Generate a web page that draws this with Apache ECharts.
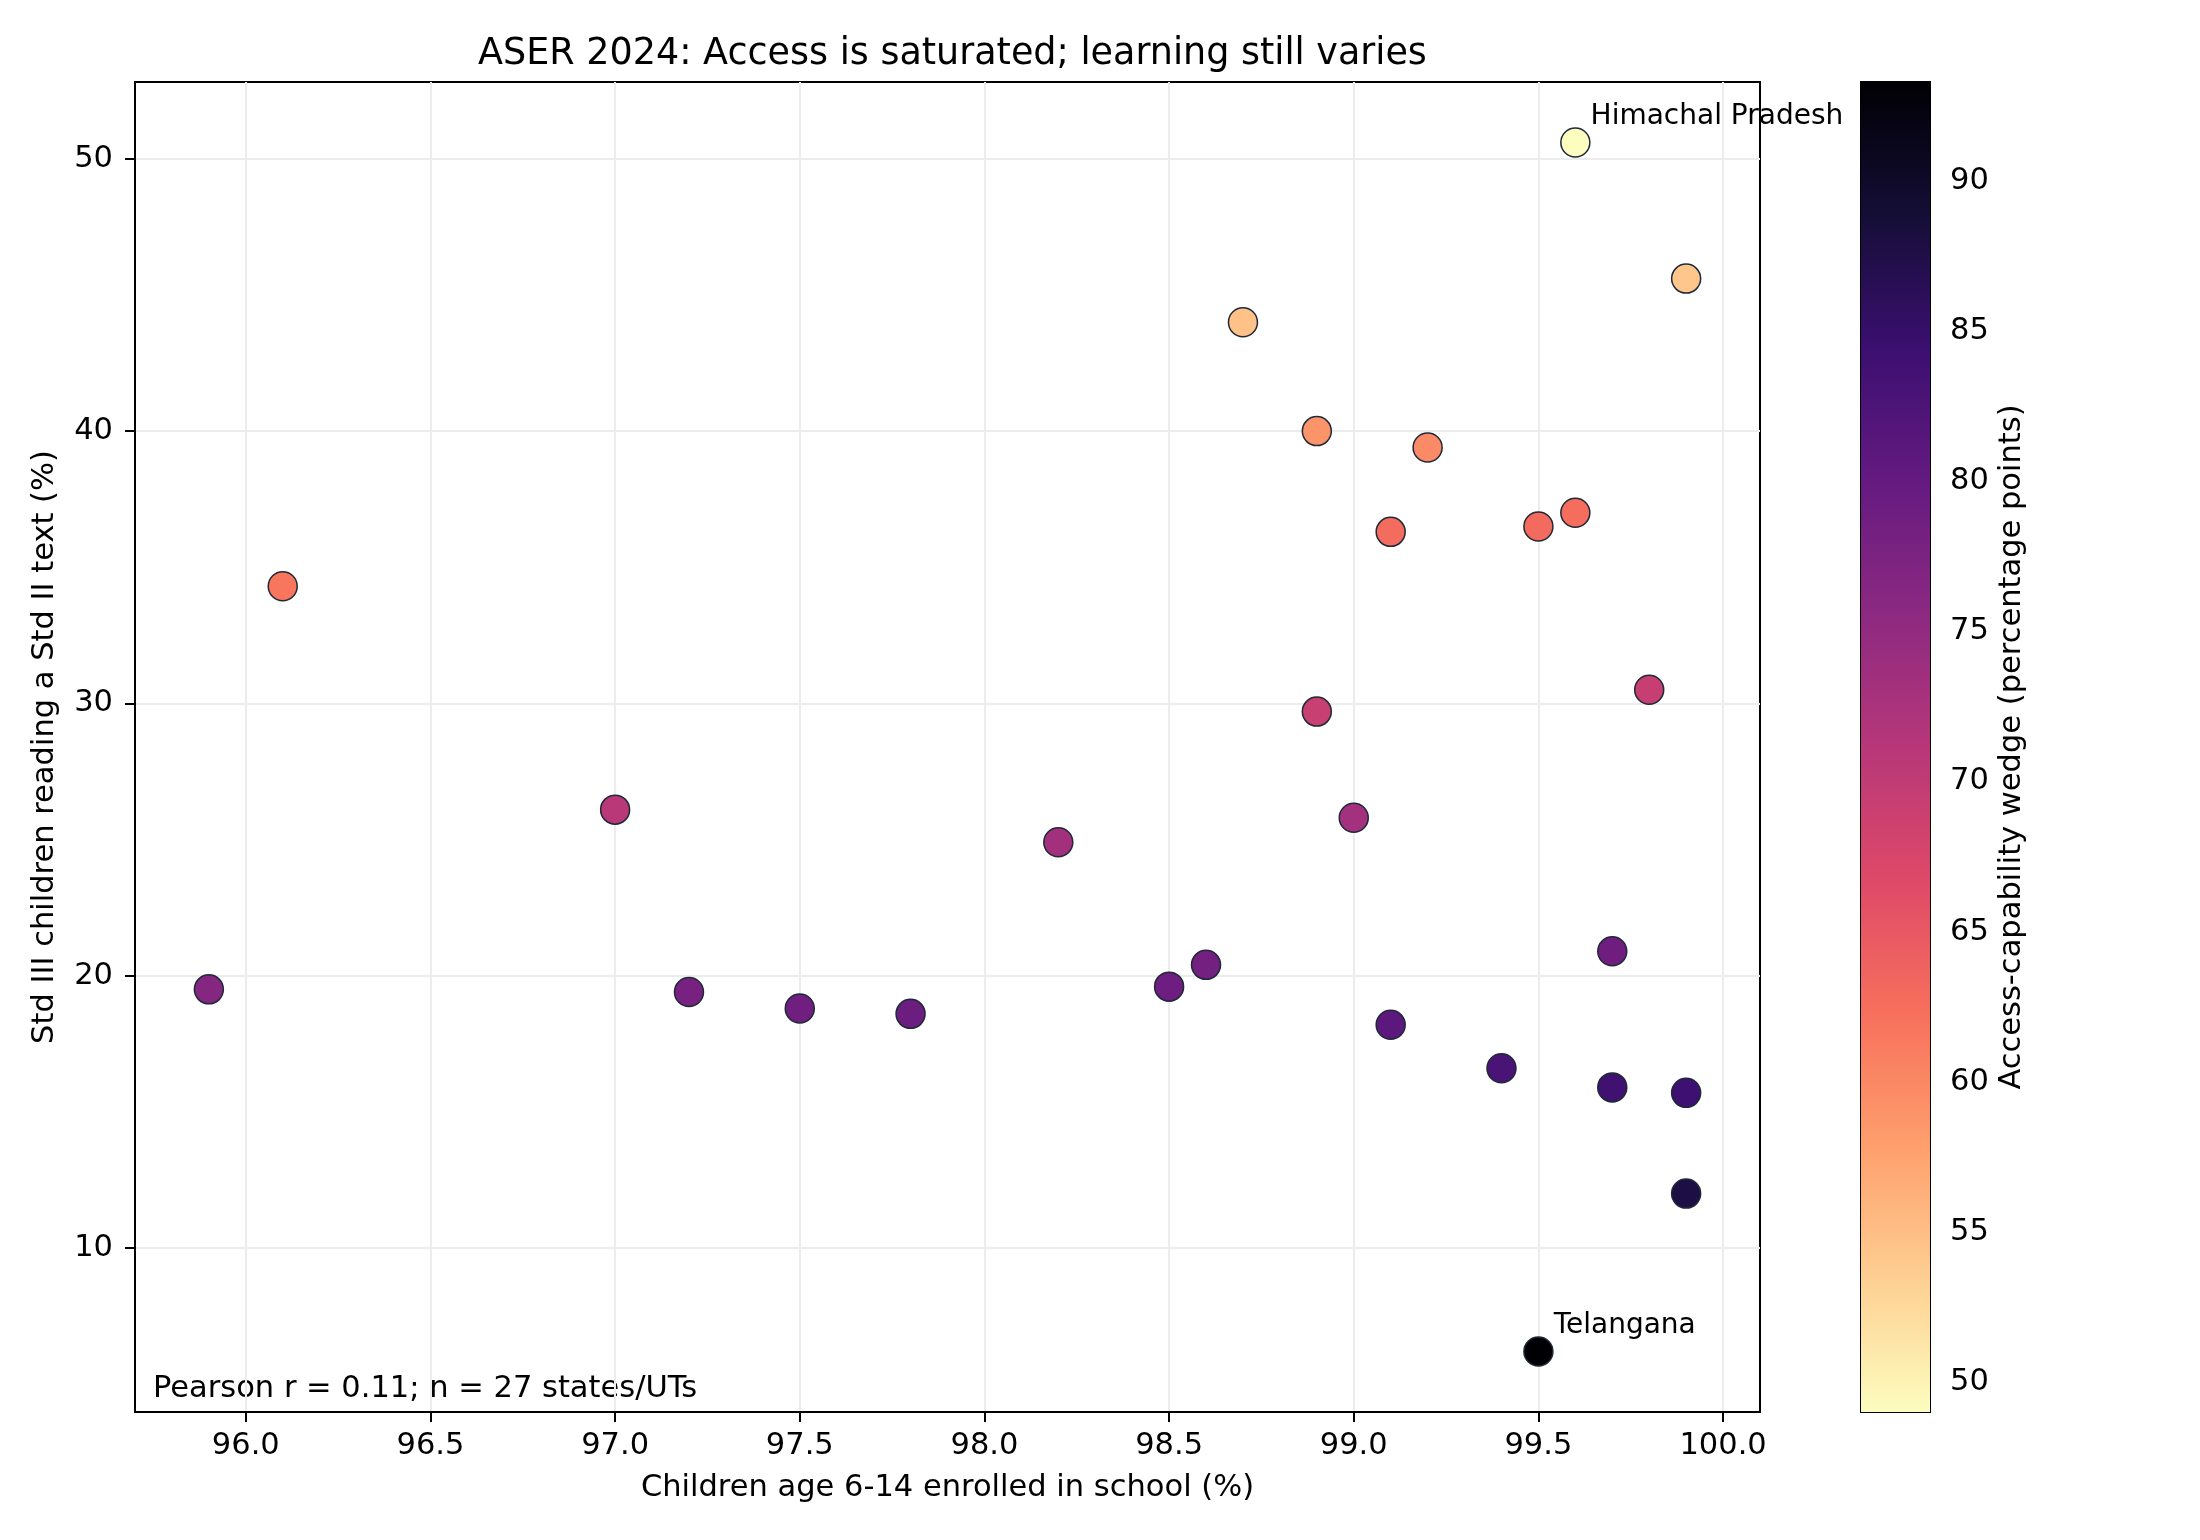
<!DOCTYPE html>
<html>
<head>
<meta charset="utf-8">
<title>ASER 2024: Access is saturated; learning still varies</title>
<script src="https://cdn.jsdelivr.net/npm/echarts@6/dist/echarts.min.js"></script>
<style>
  html, body { margin: 0; padding: 0; background: #fff; }
  #chart { width: 2200px; height: 1540px; }
</style>
</head>
<body>
<div id="chart"></div>
<script>
// enrolment (x) and Std III reading (y) per state/UT
const enrolled = [99.6, 99.9, 98.7, 98.9, 99.2, 99.1, 99.5, 99.6, 96.1, 99.8, 98.9, 97.0, 99.0, 98.2,
  95.9, 97.2, 97.5, 97.8, 98.5, 98.6, 99.7, 99.1, 99.4, 99.7, 99.9, 99.9, 99.5]
const reading = [50.6, 45.6, 44.0, 40.0, 39.4, 36.3, 36.5, 37.0, 34.3, 30.5, 29.7, 26.1, 25.8, 24.9,
  19.5, 19.4, 18.8, 18.6, 19.6, 20.4, 20.9, 18.2, 16.6, 15.9, 15.7, 12.0, 6.2]
// only two points carry a name label
const stateNames = ['Himachal Pradesh', '', '', '', '', '', '', '', '', '', '', '', '', '',
  '', '', '', '', '', '', '', '', '', '', '', '', 'Telangana']

const xTicks = [96.0, 96.5, 97.0, 97.5, 98.0, 98.5, 99.0, 99.5, 100.0]
const yTicks = [10, 20, 30, 40, 50]
const cbarTicks = [50, 55, 60, 65, 70, 75, 80, 85, 90]

// wedge = enrolled minus reading (percentage points)
const wedge = enrolled.map((e, i) => +(e - reading[i]).toFixed(1))
const vmin = Math.min(...wedge)
const vmax = Math.max(...wedge)

// magma, reversed (low = light)
const magmaR = ['#fcfdbf', '#fecf92', '#fe9f6d', '#f7705c', '#de4968', '#b73779',
  '#8c2981', '#641a80', '#3b0f70', '#140e36', '#000004']

const FONT = 'DejaVu Sans'
const FS = 30.5
const tickStyle = { show: true, length: 10, lineStyle: { color: '#000', width: 2 } }

const chart = echarts.init(document.getElementById('chart'), null, { renderer: 'canvas' })

const option = {
  animation: false,
  backgroundColor: '#fff',
  textStyle: { fontFamily: FONT, color: '#000' },
  title: {
    text: 'ASER 2024: Access is saturated; learning still varies',
    left: 947.5,
    textAlign: 'center',
    top: 31,
    textStyle: { fontFamily: FONT, fontSize: 36.5, fontWeight: 'normal', color: '#000' },
  },
  grid: [
    { left: 135, top: 82, width: 1625, height: 1330, show: true, borderColor: '#000', borderWidth: 2 },
    { left: 1861, top: 82, width: 69, height: 1330, show: true, borderColor: '#000', borderWidth: 2 },
  ],
  xAxis: [
    {
      type: 'value',
      gridIndex: 0,
      min: 95.7,
      max: 100.1,
      name: 'Children age 6-14 enrolled in school (%)',
      nameLocation: 'middle',
      nameGap: 61,
      nameTextStyle: { fontFamily: FONT, fontSize: FS, color: '#000' },
      axisLine: { show: true, lineStyle: { color: '#000', width: 2 } },
      axisTick: { ...tickStyle, customValues: xTicks },
      axisLabel: {
        customValues: xTicks,
        margin: 19,
        fontFamily: FONT,
        fontSize: FS,
        color: '#000',
        formatter: (v) => v.toFixed(1),
      },
      splitLine: { show: true, lineStyle: { color: '#ececec', width: 2 } },
    },
    {
      type: 'value',
      gridIndex: 1,
      min: 0,
      max: 1,
      show: false,
    },
  ],
  yAxis: [
    {
      type: 'value',
      gridIndex: 0,
      min: 3.98,
      max: 52.82,
      name: 'Std III children reading a Std II text (%)',
      nameLocation: 'middle',
      nameGap: 74,
      nameRotate: 90,
      nameTextStyle: { fontFamily: FONT, fontSize: FS, color: '#000' },
      axisLine: { show: true, lineStyle: { color: '#000', width: 2 } },
      axisTick: { ...tickStyle, customValues: yTicks },
      axisLabel: { customValues: yTicks, margin: 22, fontFamily: FONT, fontSize: FS, color: '#000' },
      splitLine: { show: true, lineStyle: { color: '#ececec', width: 2 } },
    },
    {
      type: 'value',
      gridIndex: 1,
      position: 'right',
      min: vmin,
      max: vmax,
      name: 'Access-capability wedge (percentage points)',
      nameLocation: 'middle',
      nameGap: 67,
      nameRotate: 90,
      nameTextStyle: { fontFamily: FONT, fontSize: FS, color: '#000' },
      axisLine: { show: false },
      axisTick: { ...tickStyle, customValues: cbarTicks },
      axisLabel: { customValues: cbarTicks, margin: 20, fontFamily: FONT, fontSize: FS, color: '#000' },
      splitLine: { show: false },
    },
  ],
  visualMap: {
    type: 'continuous',
    show: false,
    seriesIndex: 0,
    dimension: 2,
    min: vmin,
    max: vmax,
    inRange: { color: magmaR },
  },
  graphic: [
    {
      type: 'text',
      left: 153,
      top: 1374,
      style: { text: 'Pearson r = 0.11; n = 27 states/UTs', font: FS + 'px "DejaVu Sans"', fill: '#000' },
    },
  ],
  series: [
    {
      type: 'scatter',
      xAxisIndex: 0,
      yAxisIndex: 0,
      symbolSize: 29,
      itemStyle: { borderColor: '#1f2937', borderWidth: 1.5, opacity: 1 },
      label: {
        show: false,
        formatter: '{b}',
        position: [30.5, -10.5],
        align: 'left',
        verticalAlign: 'middle',
        fontFamily: FONT,
        fontSize: 28,
        color: '#000',
      },
      emphasis: { disabled: true },
      data: enrolled.map((x, i) => ({
        name: stateNames[i],
        value: [x, reading[i], wedge[i]],
        label: { show: stateNames[i] !== '' },
      })),
      z: 3,
    },
    {
      // colour bar, drawn through the bar's own axis
      type: 'custom',
      xAxisIndex: 1,
      yAxisIndex: 1,
      silent: true,
      encode: { x: 0, y: [1, 2] },
      data: [[0, vmin, vmax]],
      renderItem: (params, api) => {
        const p0 = api.coord([0, api.value(2)])
        const p1 = api.coord([1, api.value(1)])
        return {
          type: 'rect',
          shape: { x: p0[0], y: p0[1], width: p1[0] - p0[0], height: p1[1] - p0[1] },
          style: {
            fill: new echarts.graphic.LinearGradient(0, 1, 0, 0,
              magmaR.map((c, i) => ({ offset: i / (magmaR.length - 1), color: c }))),
          },
        }
      },
    },
  ],
}

chart.setOption(option)
</script>
</body>
</html>
